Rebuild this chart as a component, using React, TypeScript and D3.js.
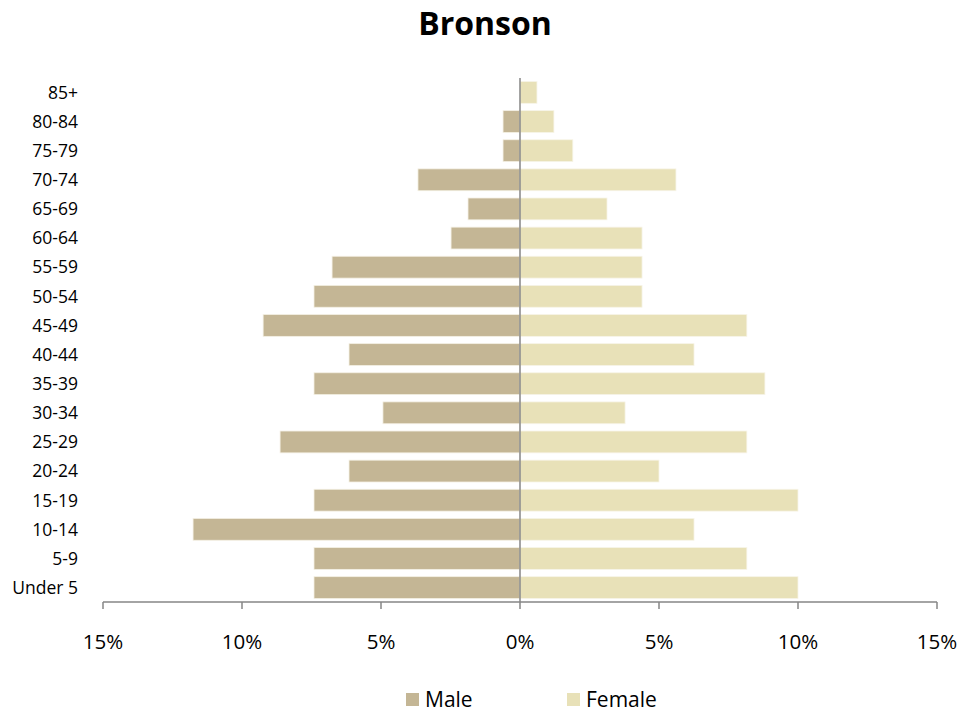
import * as d3 from 'd3';

const width = 979;
const height = 713;

const ageGroups = ['85+', '80-84', '75-79', '70-74', '65-69', '60-64', '55-59', '50-54', '45-49', '40-44', '35-39', '30-34', '25-29', '20-24', '15-19', '10-14', '5-9', 'Under 5'];
const maleValues = [0, 0.61, 0.61, 3.67, 1.87, 2.48, 6.76, 7.41, 9.24, 6.15, 7.41, 4.93, 8.63, 6.15, 7.41, 11.76, 7.41, 7.41];
const femaleValues = [0.61, 1.22, 1.9, 5.61, 3.13, 4.39, 4.39, 4.39, 8.16, 6.26, 8.81, 3.78, 8.16, 5.0, 10.0, 6.26, 8.16, 10.0];
const xTicks = [-15, -10, -5, 0, 5, 10, 15];

const maleColor = '#c4b695';
const femaleColor = '#e8e1b8';
const axisColor = '#868686';
const font = '"Open Sans", sans-serif';

const x = d3.scaleLinear().domain([-15, 15]).range([103, 937]);
const y = d3.scaleBand().domain(ageGroups).range([78, 602]).paddingInner(0.25).paddingOuter(0.12);

const App = () => {
  const rows = ageGroups.map((g, i) => ({ g, m: maleValues[i], f: femaleValues[i] }));
  return (
    <svg width={width} height={height} style={{ position: 'absolute', left: 0, top: 0 }}>
      <text x={485} y={35} textAnchor="middle" fontFamily={font} fontWeight="bold" fontSize={32}>Bronson</text>

      {rows.map(d => (
        <g key={d.g}>
          {d.m > 0 && (
            <rect x={x(-d.m)} y={y(d.g)} width={x(0) - x(-d.m)} height={y.bandwidth()}
              fill={maleColor} stroke="#f4f0e4" strokeWidth={0.8} />
          )}
          <rect x={x(0)} y={y(d.g)} width={x(d.f) - x(0)} height={y.bandwidth()}
            fill={femaleColor} stroke="#f7f4e8" strokeWidth={0.8} />
          <text x={78} y={y(d.g)! + y.bandwidth() / 2} dy="0.36em" textAnchor="end"
            fontFamily={font} fontSize={17.5} fill="#000">{d.g}</text>
        </g>
      ))}

      <line x1={x(0)} x2={x(0)} y1={78} y2={602} stroke={axisColor} strokeWidth={1.5} />
      <line x1={x(-15)} x2={x(15)} y1={602} y2={602} stroke={axisColor} strokeWidth={1.5} />
      {xTicks.map(t => (
        <g key={t}>
          <line x1={x(t)} x2={x(t)} y1={602} y2={609} stroke={axisColor} strokeWidth={1.5} />
          <text x={x(t)} y={649} textAnchor="middle" fontFamily={font} fontSize={20.5}>{Math.abs(t)}%</text>
        </g>
      ))}

      <rect x={406} y={693} width={13} height={13} fill={maleColor} />
      <text x={425} y={707} fontFamily={font} fontSize={21}>Male</text>
      <rect x={567} y={693} width={13} height={13} fill={femaleColor} />
      <text x={586} y={707} fontFamily={font} fontSize={21}>Female</text>
    </svg>
  );
};

export default App;
